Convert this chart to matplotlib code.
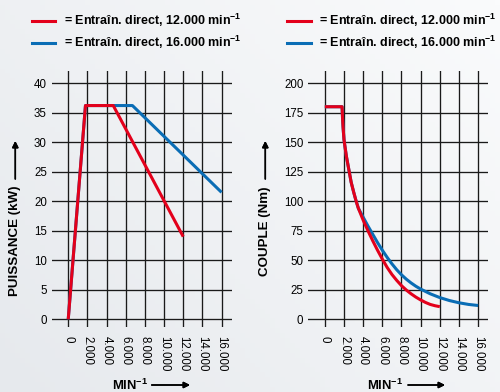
import numpy as np
import matplotlib
matplotlib.use('Agg')
from matplotlib import pyplot as plt
from matplotlib.lines import Line2D

fam = 'Liberation Sans'
plt.rcParams['font.family'] = [fam, 'DejaVu Sans']
plt.rcParams['mathtext.fontset'] = 'custom'
plt.rcParams['mathtext.rm'] = fam
plt.rcParams['mathtext.bf'] = fam + ':bold'

# data
rpm_ticks = [0, 2000, 4000, 6000, 8000, 10000, 12000, 14000, 16000]
rpm_labels = ['0', '2.000', '4.000', '6.000', '8.000', '10.000', '12.000', '14.000', '16.000']
kw_ticks = [0, 5, 10, 15, 20, 25, 30, 35, 40]
nm_ticks = [0, 25, 50, 75, 100, 125, 150, 175, 200]

p_rpm_12 = [0, 1800, 4700, 12000]
p_kw_12 = [0, 36.2, 36.2, 14.0]
p_rpm_16 = [0, 1800, 6700, 16000]
p_kw_16 = [0, 36.2, 36.2, 21.5]

t_rpm_12 = [0, 1800, 1850, 1900, 2000, 2250, 2500, 2750, 3000, 3250, 3500, 4000, 4500,
            5000, 5500, 6000, 6500, 7000, 7500, 8000, 8500, 9000, 9500, 10000, 10500,
            11000, 11500, 12000]
t_nm_12 = [180, 180, 170, 163, 152, 138, 127, 116, 108, 100.5, 94, 84, 75,
           66.5, 58.5, 51, 44, 38, 33, 28.5, 24.8, 21.6, 18.8, 16.4, 14.3,
           12.6, 11.5, 10.7]
t_rpm_16 = [0, 1800, 1850, 1900, 2000, 2250, 2500, 2750, 3000, 3250, 3500, 4000, 4500,
            5000, 5500, 6000, 6500, 7000, 7500, 8000, 8500, 9000, 9500, 10000,
            11000, 12000, 13000, 14000, 15000, 16000]
t_nm_16 = [180, 180, 170, 163, 152, 138, 127, 116, 108, 100.5, 94, 86.5, 79,
           72, 65, 58.5, 52.5, 47, 42, 37.7, 34, 30.8, 28, 25.6,
           21.6, 18.4, 15.9, 14.0, 12.6, 11.7]

legend_12 = '= Entraîn. direct, 12.000 min$^{\\mathregular{-1}}$'
legend_16 = '= Entraîn. direct, 16.000 min$^{\\mathregular{-1}}$'

red = '#e3001b'
blue = '#0a6db5'
W, H = 500, 392

fig = plt.figure(figsize=(5, 3.92), dpi=100)

# soft background
bg = fig.add_axes([0, 0, 1, 1], zorder=-10)
gx, gy = np.meshgrid(np.linspace(0, 1, 100), np.linspace(0, 1, 80))
g = 0.6 * gx + 0.4 * (1 - gy)
bg.imshow(g, cmap=matplotlib.colors.LinearSegmentedColormap.from_list('bg', ['#e6e9ed', '#fafbfc']),
          aspect='auto', extent=[0, 1, 0, 1])
bg.axis('off')


def setup(ax, yticks, ylim):
    ax.set_facecolor('none')
    ax.set_xlim(-1725, 17060)
    ax.set_ylim(*ylim)
    ax.set_xticks(rpm_ticks)
    ax.set_xticklabels(rpm_labels, rotation=-90, va='top', ha='center')
    ax.set_yticks(yticks)
    ax.tick_params(length=0, labelsize=8.3)
    ax.tick_params(axis='x', pad=7)
    ax.tick_params(axis='y', pad=3.5)
    ax.grid(True, color='#1a1a1a', lw=0.95)
    ax.set_axisbelow(True)
    for s in ax.spines.values():
        s.set_visible(False)


ax1 = fig.add_axes([51.7 / W, 0.1666, 180 / W, 0.653])
setup(ax1, kw_ticks, (-1.25, 42.1))
ax1.plot(p_rpm_16, p_kw_16, color=blue, lw=2.2, solid_capstyle='butt')
ax1.plot(p_rpm_12, p_kw_12, color=red, lw=2.2, solid_capstyle='butt')

ax2 = fig.add_axes([308.3 / W, 0.1666, 180 / W, 0.653])
setup(ax2, nm_ticks, (-6.25, 210.5))
ax2.plot(t_rpm_16, t_nm_16, color=blue, lw=2.2, solid_capstyle='butt')
ax2.plot(t_rpm_12, t_nm_12, color=red, lw=2.2, solid_capstyle='butt')

# legends
for x0, xt in [(31.7, 64.3), (287.3, 319.3)]:
    for yy, col, txt in [(20.7, red, legend_12), (42.7, blue, legend_16)]:
        fig.add_artist(Line2D([x0 / W, (x0 + 23.3) / W], [1 - yy / H, 1 - yy / H],
                              color=col, lw=2.2, transform=fig.transFigure))
        fig.text(xt / W, 1 - (yy + 4.0) / H, txt, fontsize=9.0,
                 fontweight='bold', va='baseline', ha='left')

# axis titles with arrows
arr = dict(arrowstyle='-|>', color='black', lw=1.1, mutation_scale=9, shrinkA=0, shrinkB=0)
for xc, lab in [(15.3, 'PUISSANCE (kW)'), (265.3, 'COUPLE (Nm)')]:
    fig.text(xc / W, 1 - 186 / H, lab, rotation=90, ha='center', va='top',
             fontsize=9.6, fontweight='bold')
    fig.add_artist(plt.annotate('', xy=(xc, H - 141), xytext=(xc, H - 179),
                                xycoords='figure pixels', arrowprops=arr))
for xl, a0, a1 in [(111.7, 151.7, 190), (366.7, 408, 445)]:
    fig.text(xl / W, 2.0 / H, 'MIN$^{\\mathregular{-1}}$', ha='left', va='baseline',
             fontsize=9.4, fontweight='bold')
    fig.add_artist(plt.annotate('', xy=(a1, 7), xytext=(a0, 7),
                                xycoords='figure pixels', arrowprops=arr))

plt.savefig('out.png', dpi=100)
